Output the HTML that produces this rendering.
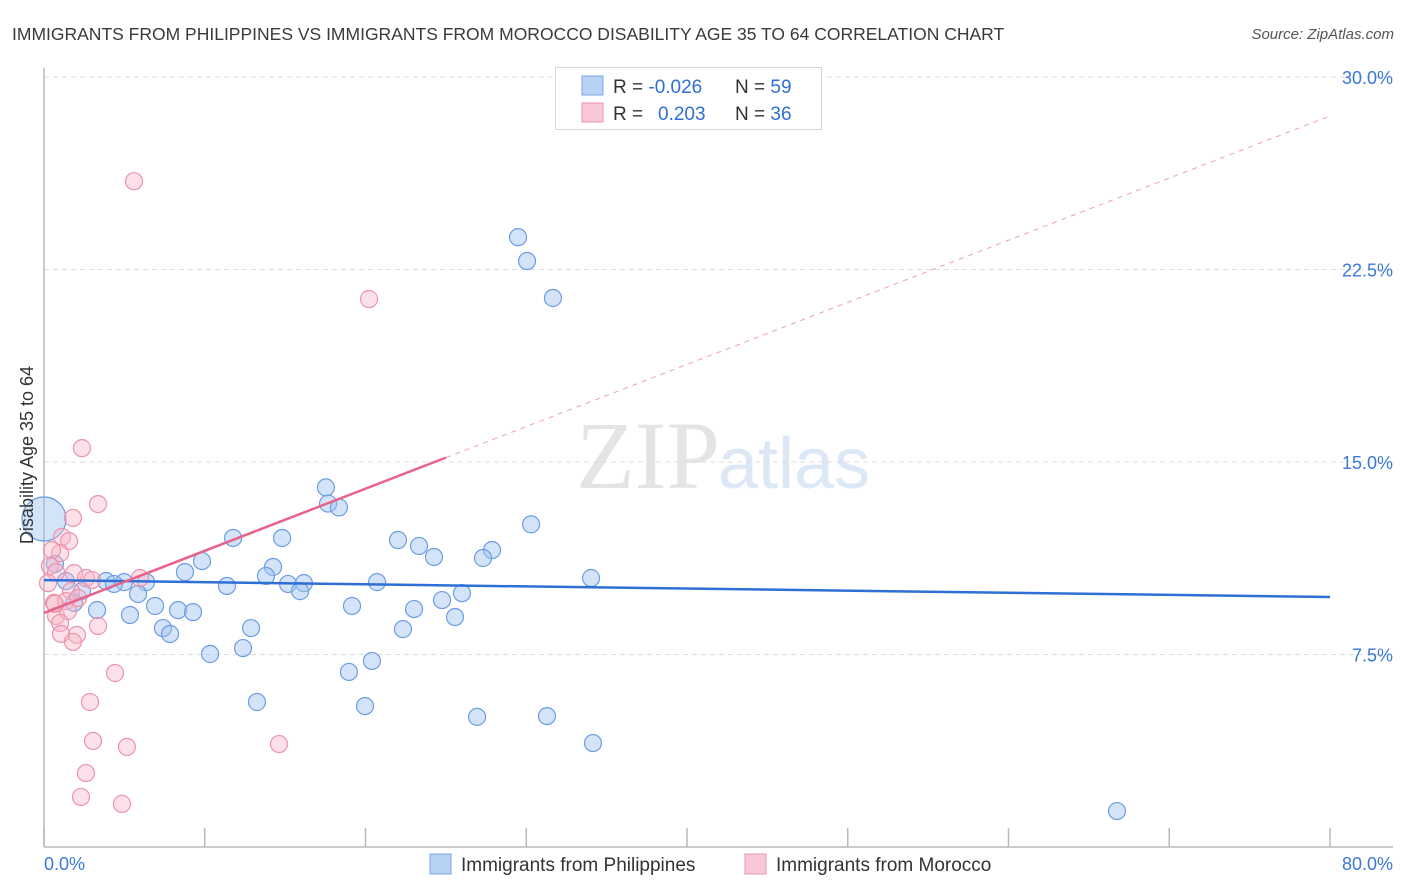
<!DOCTYPE html>
<html><head><meta charset="utf-8"><style>
body{margin:0;background:#fff;font-family:"Liberation Sans",sans-serif;}
svg{display:block}
</style></head><body>
<svg id="chart" width="1406" height="892">
<text x="12" y="40" font-size="17.5" fill="#3a3a3a">IMMIGRANTS FROM PHILIPPINES VS IMMIGRANTS FROM MOROCCO DISABILITY AGE 35 TO 64 CORRELATION CHART</text>
<text x="1394" y="39" font-size="15" fill="#555" font-style="italic" text-anchor="end">Source: ZipAtlas.com</text>
<text x="720" y="488" font-size="96" fill="#e4e4e4" text-anchor="end" font-family="Liberation Serif,serif">ZIP</text>
<text x="718" y="488" font-size="72" fill="#dde8f6">atlas</text>
<g id="grid"></g>
<g id="axes"></g>
<g id="pts"></g>
<g id="lines"></g>
<text transform="translate(33,455) rotate(-90)" font-size="18" fill="#333" text-anchor="middle">Disability Age 35 to 64</text>
<g>
<rect x="555.5" y="67.5" width="266" height="62" fill="#fff" stroke="#d6d6d6"/>
<rect x="582" y="76" width="21" height="19" fill="#b8d2f4" stroke="#7aa6e4"/>
<rect x="582" y="103" width="21" height="19" fill="#f9c8d6" stroke="#ec93ad"/>
<text x="613" y="93" font-size="19" fill="#333">R = <tspan fill="#2f6fd4">-0.026</tspan></text>
<text x="735" y="93" font-size="19" fill="#333">N = <tspan fill="#2f6fd4">59</tspan></text>
<text x="613" y="120" font-size="19" fill="#333">R = <tspan fill="#2f6fd4" x="658">0.203</tspan></text>
<text x="735" y="120" font-size="19" fill="#333">N = <tspan fill="#2f6fd4">36</tspan></text>
</g>
<g>
<rect x="430" y="854" width="21" height="20" fill="#b8d2f4" stroke="#7aa6e4"/>
<text x="461" y="871" font-size="19" fill="#333">Immigrants from Philippines</text>
<rect x="745" y="854" width="21" height="20" fill="#f9c8d6" stroke="#ec93ad"/>
<text x="776" y="871" font-size="19" fill="#333">Immigrants from Morocco</text>
</g>
</svg>
<script>
const blueX=[29.49,30.05,31.66,17.54,17.67,18.35,30.30,11.76,14.81,22.02,23.33,27.87,24.26,27.31,9.83,14.25,0.68,8.77,13.81,34.03,3.86,4.98,4.35,6.35,1.37,11.38,15.18,16.17,20.72,15.93,2.36,5.85,26.00,24.76,1.87,3.30,6.91,8.34,9.27,19.16,23.02,5.35,25.57,7.40,7.84,12.88,22.33,10.33,12.38,20.40,18.97,13.25,19.97,26.94,31.29,34.15,66.75];
const blueY=[23.76,22.83,21.39,14.01,13.38,13.23,12.57,12.04,12.04,11.96,11.73,11.57,11.30,11.26,11.14,10.91,11.03,10.71,10.56,10.48,10.36,10.32,10.25,10.32,10.36,10.17,10.25,10.28,10.32,9.97,9.97,9.86,9.89,9.62,9.51,9.23,9.39,9.23,9.15,9.39,9.27,9.04,8.96,8.53,8.30,8.53,8.49,7.52,7.75,7.25,6.82,5.65,5.49,5.07,5.10,4.05,1.40];
const bigX=[0], bigY=[12.78];
const pinkX=[5.60,20.22,2.36,3.36,1.80,1.12,1.56,1.00,0.50,0.37,0.75,1.87,2.61,2.99,5.97,0.25,1.68,0.62,1.37,2.12,0.75,1.49,3.36,1.00,1.06,2.05,1.80,4.42,2.86,3.05,5.16,14.62,2.61,2.30,4.85,0.68];
const pinkY=[25.94,21.35,15.54,13.36,12.82,12.08,11.92,11.45,11.57,10.95,10.71,10.67,10.48,10.40,10.48,10.28,9.97,9.51,9.58,9.70,9.00,9.19,8.61,8.73,8.30,8.26,7.99,6.78,5.65,4.13,3.90,4.01,2.88,1.95,1.68,9.47];
const blueTrend=[10.40,9.74];
const pinkTrend=[9.12,0.242];
const yTicks=[7.5,15,22.5,30];
const yTickLabels=["7.5%","15.0%","22.5%","30.0%"];
const xTicks=[0,10,20,30,40,50,60,70,80];
const NS="http://www.w3.org/2000/svg";
const sx=v=>44+v*1286/80, sy=v=>847-v*770/30;
function mk(p,t,a){const e=document.createElementNS(NS,t);for(const k in a)e.setAttribute(k,a[k]);p.appendChild(e);return e;}
const grid=document.getElementById('grid'),axes=document.getElementById('axes'),pts=document.getElementById('pts'),lines=document.getElementById('lines');
yTicks.forEach((t,i)=>{
 const g=mk(grid,'line',{x1:44,x2:1393,y1:sy(t),y2:sy(t),stroke:'#dcdcdc','stroke-dasharray':'5,4'});
 
 
 const l=mk(axes,'text',{x:1393,y:sy(t)+7,'font-size':18,fill:'#3b78d8','text-anchor':'end'});
 l.textContent=yTickLabels[i];
 
 
});
const ya=mk(axes,'line',{x1:44,x2:44,y1:68,y2:847,stroke:'#b8b8b8','stroke-width':1.5});


const xa=mk(axes,'line',{x1:44,x2:1393,y1:847,y2:847,stroke:'#b8b8b8','stroke-width':1.5});


xTicks.forEach(t=>{
 const k=mk(axes,'line',{x1:sx(t),x2:sx(t),y1:828,y2:847,stroke:'#b8b8b8','stroke-width':1.5});
 
 
});
const x0=mk(axes,'text',{x:44,y:870,'font-size':18,fill:'#3b78d8'});x0.textContent='0.0%';


const x1=mk(axes,'text',{x:1393,y:870,'font-size':18,fill:'#3b78d8','text-anchor':'end'});x1.textContent='80.0%';


function dot(x,y,r,f,s,name){const c=mk(pts,'circle',{cx:sx(x),cy:sy(y),r:r,fill:f,stroke:s,'stroke-width':1.2});
 
 }
blueX.forEach((x,i)=>dot(x,blueY[i],8.5,'rgba(160,195,240,0.45)','#6c9de2','point-philippines'));
bigX.forEach((x,i)=>dot(x,bigY[i],22,'rgba(160,195,240,0.45)','#6c9de2','point-philippines-large'));
pinkX.forEach((x,i)=>dot(x,pinkY[i],8.5,'rgba(248,180,200,0.4)','#ec93ad','point-morocco'));
const bl=mk(lines,'line',{x1:sx(0),y1:sy(blueTrend[0]),x2:sx(80),y2:sy(blueTrend[1]),stroke:'#2e6fd6','stroke-width':2.5});


const pe=25;
const pl=mk(lines,'line',{x1:sx(0),y1:sy(pinkTrend[0]),x2:sx(pe),y2:sy(pinkTrend[0]+pinkTrend[1]*pe),stroke:'#e8628b','stroke-width':2.5});


const pd=mk(lines,'line',{x1:sx(pe),y1:sy(pinkTrend[0]+pinkTrend[1]*pe),x2:sx(80),y2:sy(pinkTrend[0]+pinkTrend[1]*80),stroke:'#e8a0b8','stroke-width':1,'stroke-dasharray':'5,5'});


</script>
</body></html>
